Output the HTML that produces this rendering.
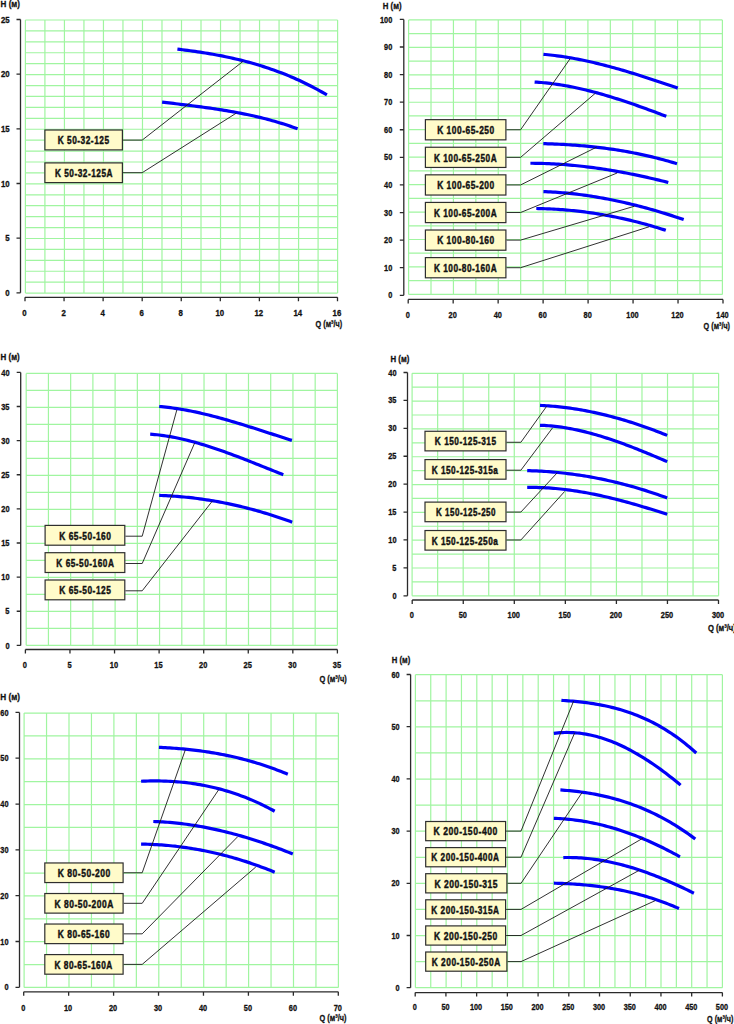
<!DOCTYPE html>
<html><head><meta charset="utf-8"><style>
html,body{margin:0;padding:0;background:#fff;width:734px;height:1024px;overflow:hidden}
svg{display:block}
text{font-family:"Liberation Sans",sans-serif;font-weight:bold;fill:#111;stroke:#111;stroke-width:0.3px}
text.bt{stroke-width:0.45px}
</style></head><body>
<svg width="734" height="1024" viewBox="0 0 734 1024">
<path d="M25.40,20.00V293.10M44.91,20.00V293.10M64.43,20.00V293.10M83.94,20.00V293.10M103.45,20.00V293.10M122.96,20.00V293.10M142.48,20.00V293.10M161.99,20.00V293.10M181.50,20.00V293.10M201.01,20.00V293.10M220.53,20.00V293.10M240.04,20.00V293.10M259.55,20.00V293.10M279.06,20.00V293.10M298.58,20.00V293.10M318.09,20.00V293.10M337.60,20.00V293.10M25.40,20.00H337.60M25.40,30.92H337.60M25.40,41.85H337.60M25.40,52.77H337.60M25.40,63.70H337.60M25.40,74.62H337.60M25.40,85.54H337.60M25.40,96.47H337.60M25.40,107.39H337.60M25.40,118.32H337.60M25.40,129.24H337.60M25.40,140.16H337.60M25.40,151.09H337.60M25.40,162.01H337.60M25.40,172.94H337.60M25.40,183.86H337.60M25.40,194.78H337.60M25.40,205.71H337.60M25.40,216.63H337.60M25.40,227.56H337.60M25.40,238.48H337.60M25.40,249.40H337.60M25.40,260.33H337.60M25.40,271.25H337.60M25.40,282.18H337.60M25.40,293.10H337.60" stroke="#a0f5a0" stroke-width="1.2" fill="none"/>
<path d="M20.50,19.50V292.80M16.50,292.80H20.50M16.50,238.14H20.50M16.50,183.48H20.50M16.50,128.82H20.50M16.50,74.16H20.50M16.50,19.50H20.50M25.00,297.30H337.50M25.00,297.30V301.30M64.06,297.30V301.30M103.12,297.30V301.30M142.19,297.30V301.30M181.25,297.30V301.30M220.31,297.30V301.30M259.38,297.30V301.30M298.44,297.30V301.30M337.50,297.30V301.30" stroke="#2a2a2a" stroke-width="1.3" fill="none"/>
<text transform="translate(5.37,295.93) scale(0.870,1)" font-size="9.0">0</text>
<text transform="translate(5.25,241.27) scale(0.870,1)" font-size="9.0">5</text>
<text transform="translate(1.02,186.61) scale(0.870,1)" font-size="9.0">10</text>
<text transform="translate(0.90,131.95) scale(0.870,1)" font-size="9.0">15</text>
<text transform="translate(1.02,77.29) scale(0.870,1)" font-size="9.0">20</text>
<text transform="translate(0.90,22.63) scale(0.870,1)" font-size="9.0">25</text>
<text transform="translate(22.33,315.80) scale(0.870,1)" font-size="9.0">0</text>
<text transform="translate(61.41,315.80) scale(0.870,1)" font-size="9.0">2</text>
<text transform="translate(100.41,315.80) scale(0.870,1)" font-size="9.0">4</text>
<text transform="translate(139.51,315.80) scale(0.870,1)" font-size="9.0">6</text>
<text transform="translate(178.58,315.80) scale(0.870,1)" font-size="9.0">8</text>
<text transform="translate(215.39,315.80) scale(0.870,1)" font-size="9.0">10</text>
<text transform="translate(254.45,315.80) scale(0.870,1)" font-size="9.0">12</text>
<text transform="translate(293.38,315.80) scale(0.870,1)" font-size="9.0">14</text>
<text transform="translate(332.56,315.80) scale(0.870,1)" font-size="9.0">16</text>
<text transform="translate(0.58,6.80) scale(0.858,1)" font-size="9.4">H (м)</text>
<text transform="translate(315.61,326.80) scale(0.776,1)" font-size="9.4">Q (м³/ч)</text>
<path d="M177.40,49.12 L179.93,49.42 L182.47,49.73 L185.00,50.05 L187.54,50.38 L190.07,50.72 L192.60,51.07 L195.14,51.43 L197.67,51.80 L200.21,52.18 L202.74,52.58 L205.27,52.98 L207.81,53.40 L210.34,53.83 L212.87,54.27 L215.41,54.73 L217.94,55.20 L220.48,55.69 L223.01,56.19 L225.54,56.71 L228.08,57.24 L230.61,57.79 L233.15,58.36 L235.68,58.94 L238.21,59.54 L240.75,60.16 L243.28,60.79 L245.82,61.45 L248.35,62.12 L250.88,62.82 L253.42,63.53 L255.95,64.27 L258.48,65.03 L261.02,65.80 L263.55,66.60 L266.09,67.42 L268.62,68.27 L271.15,69.14 L273.69,70.03 L276.22,70.94 L278.76,71.88 L281.29,72.84 L283.82,73.83 L286.36,74.85 L288.89,75.89 L291.43,76.95 L293.96,78.05 L296.49,79.17 L299.03,80.32 L301.56,81.50 L304.09,82.70 L306.63,83.94 L309.16,85.20 L311.70,86.49 L314.23,87.82 L316.76,89.17 L319.30,90.56 L321.83,91.98 L324.37,93.43 L326.90,94.91" stroke="#0000f8" stroke-width="3.2" fill="none"/>
<path d="M162.10,102.06 L164.40,102.34 L166.69,102.62 L168.99,102.90 L171.29,103.18 L173.58,103.46 L175.88,103.74 L178.18,104.02 L180.47,104.30 L182.77,104.58 L185.07,104.86 L187.36,105.15 L189.66,105.44 L191.96,105.73 L194.25,106.02 L196.55,106.32 L198.85,106.62 L201.14,106.92 L203.44,107.23 L205.74,107.55 L208.03,107.87 L210.33,108.20 L212.63,108.53 L214.92,108.87 L217.22,109.22 L219.52,109.57 L221.81,109.94 L224.11,110.31 L226.41,110.68 L228.70,111.07 L231.00,111.47 L233.29,111.88 L235.59,112.30 L237.89,112.72 L240.18,113.16 L242.48,113.61 L244.78,114.08 L247.07,114.55 L249.37,115.04 L251.67,115.54 L253.96,116.05 L256.26,116.57 L258.56,117.11 L260.85,117.67 L263.15,118.24 L265.45,118.82 L267.74,119.42 L270.04,120.04 L272.34,120.67 L274.63,121.32 L276.93,121.99 L279.23,122.67 L281.52,123.37 L283.82,124.09 L286.12,124.83 L288.41,125.59 L290.71,126.37 L293.01,127.16 L295.30,127.98 L297.60,128.82" stroke="#0000f8" stroke-width="3.2" fill="none"/>
<path d="M123.00,140.10H142.20L243.00,61.40" stroke="#1a1a1a" stroke-width="0.9" fill="none"/>
<rect x="44.90" y="130.00" width="77.50" height="19.90" fill="#fffbca" stroke="#2e2e2e" stroke-width="1.2"/>
<text class="bt" transform="translate(57.76,144.15) scale(0.737,1)" font-size="11.3" letter-spacing="0.687">K 50-32-125</text>
<path d="M123.00,172.70H142.20L236.30,113.10" stroke="#1a1a1a" stroke-width="0.9" fill="none"/>
<rect x="44.90" y="162.90" width="77.50" height="19.70" fill="#fffbca" stroke="#2e2e2e" stroke-width="1.2"/>
<text class="bt" transform="translate(54.96,176.95) scale(0.732,1)" font-size="11.3" letter-spacing="0.707">K 50-32-125A</text>
<path d="M408.60,19.90V294.40M431.01,19.90V294.40M453.43,19.90V294.40M475.84,19.90V294.40M498.26,19.90V294.40M520.67,19.90V294.40M543.09,19.90V294.40M565.50,19.90V294.40M587.91,19.90V294.40M610.33,19.90V294.40M632.74,19.90V294.40M655.16,19.90V294.40M677.57,19.90V294.40M699.99,19.90V294.40M722.40,19.90V294.40M408.60,19.90H722.40M408.60,33.62H722.40M408.60,47.35H722.40M408.60,61.07H722.40M408.60,74.80H722.40M408.60,88.53H722.40M408.60,102.25H722.40M408.60,115.97H722.40M408.60,129.70H722.40M408.60,143.43H722.40M408.60,157.15H722.40M408.60,170.88H722.40M408.60,184.60H722.40M408.60,198.33H722.40M408.60,212.05H722.40M408.60,225.78H722.40M408.60,239.50H722.40M408.60,253.22H722.40M408.60,266.95H722.40M408.60,280.67H722.40M408.60,294.40H722.40" stroke="#a0f5a0" stroke-width="1.2" fill="none"/>
<path d="M403.80,19.40V295.30M399.80,295.30H403.80M399.80,267.71H403.80M399.80,240.12H403.80M399.80,212.53H403.80M399.80,184.94H403.80M399.80,157.35H403.80M399.80,129.76H403.80M399.80,102.17H403.80M399.80,74.58H403.80M399.80,46.99H403.80M399.80,19.40H403.80M408.20,299.40H723.00M408.20,299.40V303.40M453.17,299.40V303.40M498.14,299.40V303.40M543.11,299.40V303.40M588.09,299.40V303.40M633.06,299.40V303.40M678.03,299.40V303.40M723.00,299.40V303.40" stroke="#2a2a2a" stroke-width="1.3" fill="none"/>
<text transform="translate(388.20,298.43) scale(0.820,1)" font-size="9.0">0</text>
<text transform="translate(384.10,270.84) scale(0.820,1)" font-size="9.0">10</text>
<text transform="translate(384.10,243.25) scale(0.820,1)" font-size="9.0">20</text>
<text transform="translate(384.10,215.66) scale(0.820,1)" font-size="9.0">30</text>
<text transform="translate(384.10,188.07) scale(0.820,1)" font-size="9.0">40</text>
<text transform="translate(384.10,160.48) scale(0.820,1)" font-size="9.0">50</text>
<text transform="translate(384.10,132.89) scale(0.820,1)" font-size="9.0">60</text>
<text transform="translate(384.10,105.30) scale(0.820,1)" font-size="9.0">70</text>
<text transform="translate(384.10,77.71) scale(0.820,1)" font-size="9.0">80</text>
<text transform="translate(384.10,50.12) scale(0.820,1)" font-size="9.0">90</text>
<text transform="translate(380.01,22.53) scale(0.820,1)" font-size="9.0">100</text>
<text transform="translate(405.65,317.90) scale(0.820,1)" font-size="9.0">0</text>
<text transform="translate(448.59,317.90) scale(0.820,1)" font-size="9.0">20</text>
<text transform="translate(493.64,317.90) scale(0.820,1)" font-size="9.0">40</text>
<text transform="translate(538.54,317.90) scale(0.820,1)" font-size="9.0">60</text>
<text transform="translate(583.53,317.90) scale(0.820,1)" font-size="9.0">80</text>
<text transform="translate(626.34,317.90) scale(0.820,1)" font-size="9.0">100</text>
<text transform="translate(671.31,317.90) scale(0.820,1)" font-size="9.0">120</text>
<text transform="translate(716.28,317.90) scale(0.820,1)" font-size="9.0">140</text>
<text transform="translate(382.79,9.30) scale(0.834,1)" font-size="9.4">H (м)</text>
<text transform="translate(703.61,328.60) scale(0.770,1)" font-size="9.4">Q (м³/ч)</text>
<path d="M543.40,54.32 L545.68,54.52 L547.96,54.74 L550.23,54.97 L552.51,55.23 L554.79,55.50 L557.07,55.79 L559.35,56.10 L561.62,56.42 L563.90,56.76 L566.18,57.11 L568.46,57.49 L570.74,57.87 L573.01,58.28 L575.29,58.70 L577.57,59.13 L579.85,59.57 L582.13,60.04 L584.40,60.51 L586.68,61.00 L588.96,61.50 L591.24,62.02 L593.52,62.54 L595.79,63.08 L598.07,63.63 L600.35,64.20 L602.63,64.77 L604.91,65.36 L607.18,65.95 L609.46,66.56 L611.74,67.18 L614.02,67.80 L616.29,68.44 L618.57,69.08 L620.85,69.74 L623.13,70.40 L625.41,71.07 L627.68,71.75 L629.96,72.44 L632.24,73.13 L634.52,73.84 L636.80,74.55 L639.07,75.26 L641.35,75.98 L643.63,76.71 L645.91,77.44 L648.19,78.18 L650.46,78.92 L652.74,79.67 L655.02,80.43 L657.30,81.18 L659.58,81.94 L661.85,82.71 L664.13,83.47 L666.41,84.24 L668.69,85.02 L670.97,85.79 L673.24,86.57 L675.52,87.35 L677.80,88.13" stroke="#0000f8" stroke-width="3.2" fill="none"/>
<path d="M534.60,82.05 L536.83,82.19 L539.06,82.35 L541.30,82.52 L543.53,82.72 L545.76,82.94 L547.99,83.18 L550.23,83.44 L552.46,83.72 L554.69,84.02 L556.92,84.33 L559.15,84.67 L561.39,85.02 L563.62,85.39 L565.85,85.78 L568.08,86.19 L570.32,86.61 L572.55,87.05 L574.78,87.51 L577.01,87.98 L579.24,88.47 L581.48,88.98 L583.71,89.49 L585.94,90.03 L588.17,90.58 L590.41,91.14 L592.64,91.71 L594.87,92.30 L597.10,92.90 L599.33,93.52 L601.57,94.15 L603.80,94.79 L606.03,95.44 L608.26,96.10 L610.49,96.78 L612.73,97.46 L614.96,98.16 L617.19,98.86 L619.42,99.58 L621.66,100.30 L623.89,101.04 L626.12,101.78 L628.35,102.53 L630.58,103.29 L632.82,104.06 L635.05,104.84 L637.28,105.62 L639.51,106.41 L641.75,107.21 L643.98,108.01 L646.21,108.82 L648.44,109.64 L650.67,110.46 L652.91,111.29 L655.14,112.12 L657.37,112.95 L659.60,113.79 L661.84,114.63 L664.07,115.48 L666.30,116.33" stroke="#0000f8" stroke-width="3.2" fill="none"/>
<path d="M543.30,143.65 L545.57,143.71 L547.83,143.78 L550.10,143.86 L552.36,143.94 L554.63,144.03 L556.90,144.13 L559.16,144.23 L561.43,144.35 L563.69,144.47 L565.96,144.60 L568.23,144.74 L570.49,144.88 L572.76,145.04 L575.03,145.20 L577.29,145.37 L579.56,145.56 L581.82,145.75 L584.09,145.95 L586.36,146.16 L588.62,146.37 L590.89,146.60 L593.15,146.84 L595.42,147.09 L597.69,147.35 L599.95,147.62 L602.22,147.89 L604.48,148.18 L606.75,148.48 L609.02,148.79 L611.28,149.11 L613.55,149.45 L615.82,149.79 L618.08,150.15 L620.35,150.51 L622.61,150.89 L624.88,151.28 L627.15,151.68 L629.41,152.09 L631.68,152.52 L633.94,152.96 L636.21,153.41 L638.48,153.87 L640.74,154.34 L643.01,154.83 L645.27,155.33 L647.54,155.84 L649.81,156.37 L652.07,156.91 L654.34,157.46 L656.61,158.03 L658.87,158.61 L661.14,159.21 L663.40,159.82 L665.67,160.44 L667.94,161.08 L670.20,161.73 L672.47,162.39 L674.73,163.07 L677.00,163.77" stroke="#0000f8" stroke-width="3.2" fill="none"/>
<path d="M530.40,163.25 L532.74,163.26 L535.07,163.29 L537.41,163.32 L539.75,163.37 L542.09,163.43 L544.42,163.50 L546.76,163.59 L549.10,163.68 L551.44,163.79 L553.77,163.91 L556.11,164.04 L558.45,164.19 L560.78,164.34 L563.12,164.51 L565.46,164.69 L567.80,164.88 L570.13,165.08 L572.47,165.29 L574.81,165.51 L577.15,165.75 L579.48,165.99 L581.82,166.25 L584.16,166.51 L586.49,166.79 L588.83,167.08 L591.17,167.38 L593.51,167.68 L595.84,168.00 L598.18,168.33 L600.52,168.67 L602.86,169.02 L605.19,169.38 L607.53,169.74 L609.87,170.12 L612.21,170.51 L614.54,170.91 L616.88,171.31 L619.22,171.73 L621.55,172.15 L623.89,172.59 L626.23,173.03 L628.57,173.48 L630.90,173.95 L633.24,174.42 L635.58,174.89 L637.92,175.38 L640.25,175.88 L642.59,176.38 L644.93,176.89 L647.26,177.41 L649.60,177.94 L651.94,178.48 L654.28,179.02 L656.61,179.58 L658.95,180.14 L661.29,180.70 L663.63,181.28 L665.96,181.86 L668.30,182.45" stroke="#0000f8" stroke-width="3.2" fill="none"/>
<path d="M543.40,191.59 L545.78,191.68 L548.16,191.78 L550.53,191.90 L552.91,192.03 L555.29,192.18 L557.67,192.35 L560.05,192.53 L562.42,192.72 L564.80,192.93 L567.18,193.15 L569.56,193.39 L571.94,193.64 L574.31,193.90 L576.69,194.18 L579.07,194.47 L581.45,194.78 L583.83,195.10 L586.20,195.43 L588.58,195.78 L590.96,196.14 L593.34,196.51 L595.72,196.90 L598.09,197.30 L600.47,197.71 L602.85,198.14 L605.23,198.58 L607.61,199.03 L609.98,199.49 L612.36,199.97 L614.74,200.45 L617.12,200.96 L619.49,201.47 L621.87,201.99 L624.25,202.53 L626.63,203.08 L629.01,203.64 L631.38,204.21 L633.76,204.79 L636.14,205.39 L638.52,206.00 L640.90,206.61 L643.27,207.24 L645.65,207.88 L648.03,208.54 L650.41,209.20 L652.79,209.87 L655.16,210.55 L657.54,211.25 L659.92,211.95 L662.30,212.67 L664.68,213.39 L667.05,214.13 L669.43,214.88 L671.81,215.63 L674.19,216.40 L676.57,217.17 L678.94,217.96 L681.32,218.76 L683.70,219.56" stroke="#0000f8" stroke-width="3.2" fill="none"/>
<path d="M536.30,208.52 L538.49,208.56 L540.69,208.61 L542.88,208.67 L545.08,208.74 L547.27,208.82 L549.47,208.91 L551.66,209.02 L553.86,209.13 L556.05,209.26 L558.25,209.40 L560.44,209.55 L562.64,209.71 L564.83,209.88 L567.03,210.07 L569.22,210.26 L571.42,210.47 L573.61,210.69 L575.81,210.92 L578.00,211.16 L580.20,211.42 L582.39,211.68 L584.59,211.96 L586.78,212.25 L588.98,212.55 L591.17,212.86 L593.37,213.18 L595.56,213.51 L597.76,213.86 L599.95,214.22 L602.15,214.58 L604.34,214.96 L606.54,215.36 L608.73,215.76 L610.93,216.17 L613.12,216.60 L615.32,217.04 L617.51,217.49 L619.71,217.95 L621.90,218.42 L624.10,218.91 L626.29,219.40 L628.49,219.91 L630.68,220.43 L632.88,220.96 L635.07,221.51 L637.27,222.06 L639.46,222.63 L641.66,223.20 L643.85,223.79 L646.05,224.39 L648.24,225.01 L650.44,225.63 L652.63,226.27 L654.83,226.92 L657.02,227.58 L659.22,228.25 L661.41,228.93 L663.61,229.62 L665.80,230.33" stroke="#0000f8" stroke-width="3.2" fill="none"/>
<path d="M506.50,129.76H520.60L570.10,58.70" stroke="#1a1a1a" stroke-width="0.9" fill="none"/>
<rect x="425.40" y="119.66" width="80.50" height="20.20" fill="#fffbca" stroke="#2e2e2e" stroke-width="1.2"/>
<text class="bt" transform="translate(437.15,133.96) scale(0.745,1)" font-size="11.3" letter-spacing="0.686">K 100-65-250</text>
<path d="M506.50,157.35H520.60L595.40,93.20" stroke="#1a1a1a" stroke-width="0.9" fill="none"/>
<rect x="425.40" y="147.25" width="80.50" height="20.20" fill="#fffbca" stroke="#2e2e2e" stroke-width="1.2"/>
<text class="bt" transform="translate(433.96,161.55) scale(0.731,1)" font-size="11.3" letter-spacing="0.706">K 100-65-250A</text>
<path d="M506.50,184.94H520.60L596.70,147.10" stroke="#1a1a1a" stroke-width="0.9" fill="none"/>
<rect x="425.40" y="174.84" width="80.50" height="20.20" fill="#fffbca" stroke="#2e2e2e" stroke-width="1.2"/>
<text class="bt" transform="translate(437.15,189.14) scale(0.745,1)" font-size="11.3" letter-spacing="0.686">K 100-65-200</text>
<path d="M506.50,212.53H520.60L617.10,173.00" stroke="#1a1a1a" stroke-width="0.9" fill="none"/>
<rect x="425.40" y="202.43" width="80.50" height="20.20" fill="#fffbca" stroke="#2e2e2e" stroke-width="1.2"/>
<text class="bt" transform="translate(433.96,216.73) scale(0.731,1)" font-size="11.3" letter-spacing="0.706">K 100-65-200A</text>
<path d="M506.50,240.12H520.60L634.50,206.20" stroke="#1a1a1a" stroke-width="0.9" fill="none"/>
<rect x="425.40" y="230.02" width="80.50" height="20.20" fill="#fffbca" stroke="#2e2e2e" stroke-width="1.2"/>
<text class="bt" transform="translate(437.15,244.32) scale(0.745,1)" font-size="11.3" letter-spacing="0.686">K 100-80-160</text>
<path d="M506.50,267.71H520.60L649.00,226.80" stroke="#1a1a1a" stroke-width="0.9" fill="none"/>
<rect x="425.40" y="257.61" width="80.50" height="20.20" fill="#fffbca" stroke="#2e2e2e" stroke-width="1.2"/>
<text class="bt" transform="translate(433.96,271.91) scale(0.731,1)" font-size="11.3" letter-spacing="0.706">K 100-80-160A</text>
<path d="M26.20,373.40V645.30M48.43,373.40V645.30M70.66,373.40V645.30M92.89,373.40V645.30M115.11,373.40V645.30M137.34,373.40V645.30M159.57,373.40V645.30M181.80,373.40V645.30M204.03,373.40V645.30M226.26,373.40V645.30M248.49,373.40V645.30M270.71,373.40V645.30M292.94,373.40V645.30M315.17,373.40V645.30M337.40,373.40V645.30M26.20,373.40H337.40M26.20,390.39H337.40M26.20,407.39H337.40M26.20,424.38H337.40M26.20,441.38H337.40M26.20,458.37H337.40M26.20,475.36H337.40M26.20,492.36H337.40M26.20,509.35H337.40M26.20,526.34H337.40M26.20,543.34H337.40M26.20,560.33H337.40M26.20,577.32H337.40M26.20,594.32H337.40M26.20,611.31H337.40M26.20,628.31H337.40M26.20,645.30H337.40" stroke="#a0f5a0" stroke-width="1.2" fill="none"/>
<path d="M20.70,372.40V645.40M16.70,645.40H20.70M16.70,611.27H20.70M16.70,577.15H20.70M16.70,543.02H20.70M16.70,508.90H20.70M16.70,474.77H20.70M16.70,440.65H20.70M16.70,406.52H20.70M16.70,372.40H20.70M25.40,649.50H337.40M25.40,649.50V653.50M69.97,649.50V653.50M114.54,649.50V653.50M159.11,649.50V653.50M203.69,649.50V653.50M248.26,649.50V653.50M292.83,649.50V653.50M337.40,649.50V653.50" stroke="#2a2a2a" stroke-width="1.3" fill="none"/>
<text transform="translate(5.45,648.53) scale(0.830,1)" font-size="9.0">0</text>
<text transform="translate(5.34,614.40) scale(0.830,1)" font-size="9.0">5</text>
<text transform="translate(1.31,580.28) scale(0.830,1)" font-size="9.0">10</text>
<text transform="translate(1.20,546.15) scale(0.830,1)" font-size="9.0">15</text>
<text transform="translate(1.31,512.03) scale(0.830,1)" font-size="9.0">20</text>
<text transform="translate(1.20,477.90) scale(0.830,1)" font-size="9.0">25</text>
<text transform="translate(1.31,443.78) scale(0.830,1)" font-size="9.0">30</text>
<text transform="translate(1.20,409.65) scale(0.830,1)" font-size="9.0">35</text>
<text transform="translate(1.31,375.53) scale(0.830,1)" font-size="9.0">40</text>
<text transform="translate(22.83,668.00) scale(0.830,1)" font-size="9.0">0</text>
<text transform="translate(67.38,668.00) scale(0.830,1)" font-size="9.0">5</text>
<text transform="translate(109.82,668.00) scale(0.830,1)" font-size="9.0">10</text>
<text transform="translate(154.34,668.00) scale(0.830,1)" font-size="9.0">15</text>
<text transform="translate(199.06,668.00) scale(0.830,1)" font-size="9.0">20</text>
<text transform="translate(243.57,668.00) scale(0.830,1)" font-size="9.0">25</text>
<text transform="translate(288.24,668.00) scale(0.830,1)" font-size="9.0">30</text>
<text transform="translate(332.75,668.00) scale(0.830,1)" font-size="9.0">35</text>
<text transform="translate(0.58,360.30) scale(0.886,1)" font-size="9.0">H (м)</text>
<text transform="translate(319.40,682.00) scale(0.797,1)" font-size="9.4">Q (м³/ч)</text>
<path d="M159.20,406.50 L161.45,406.70 L163.70,406.91 L165.95,407.15 L168.20,407.41 L170.45,407.69 L172.69,407.98 L174.94,408.30 L177.19,408.64 L179.44,408.99 L181.69,409.36 L183.94,409.75 L186.19,410.16 L188.44,410.58 L190.69,411.02 L192.94,411.47 L195.19,411.94 L197.44,412.43 L199.68,412.93 L201.93,413.44 L204.18,413.97 L206.43,414.51 L208.68,415.06 L210.93,415.62 L213.18,416.20 L215.43,416.79 L217.68,417.39 L219.93,418.00 L222.18,418.62 L224.43,419.24 L226.67,419.88 L228.92,420.53 L231.17,421.18 L233.42,421.85 L235.67,422.52 L237.92,423.19 L240.17,423.88 L242.42,424.57 L244.67,425.26 L246.92,425.96 L249.17,426.67 L251.42,427.38 L253.66,428.09 L255.91,428.81 L258.16,429.53 L260.41,430.25 L262.66,430.98 L264.91,431.70 L267.16,432.43 L269.41,433.16 L271.66,433.89 L273.91,434.62 L276.16,435.34 L278.41,436.07 L280.65,436.80 L282.90,437.52 L285.15,438.24 L287.40,438.96 L289.65,439.68 L291.90,440.39" stroke="#0000f8" stroke-width="3.2" fill="none"/>
<path d="M150.20,434.17 L152.46,434.34 L154.71,434.55 L156.97,434.77 L159.22,435.03 L161.48,435.31 L163.74,435.62 L165.99,435.96 L168.25,436.32 L170.50,436.70 L172.76,437.11 L175.02,437.55 L177.27,438.00 L179.53,438.48 L181.78,438.98 L184.04,439.50 L186.29,440.04 L188.55,440.60 L190.81,441.18 L193.06,441.78 L195.32,442.40 L197.57,443.03 L199.83,443.68 L202.09,444.35 L204.34,445.04 L206.60,445.74 L208.85,446.45 L211.11,447.18 L213.37,447.93 L215.62,448.68 L217.88,449.45 L220.13,450.23 L222.39,451.03 L224.65,451.83 L226.90,452.64 L229.16,453.47 L231.41,454.30 L233.67,455.14 L235.93,455.99 L238.18,456.85 L240.44,457.72 L242.69,458.59 L244.95,459.46 L247.21,460.34 L249.46,461.23 L251.72,462.12 L253.97,463.01 L256.23,463.91 L258.48,464.81 L260.74,465.71 L263.00,466.62 L265.25,467.52 L267.51,468.42 L269.76,469.32 L272.02,470.23 L274.28,471.13 L276.53,472.03 L278.79,472.92 L281.04,473.81 L283.30,474.70" stroke="#0000f8" stroke-width="3.2" fill="none"/>
<path d="M159.20,495.44 L161.45,495.52 L163.71,495.60 L165.96,495.71 L168.22,495.82 L170.47,495.95 L172.73,496.09 L174.98,496.25 L177.23,496.41 L179.49,496.60 L181.74,496.79 L184.00,497.00 L186.25,497.22 L188.51,497.45 L190.76,497.70 L193.01,497.96 L195.27,498.24 L197.52,498.52 L199.78,498.82 L202.03,499.13 L204.28,499.46 L206.54,499.80 L208.79,500.15 L211.05,500.52 L213.30,500.89 L215.56,501.28 L217.81,501.69 L220.06,502.10 L222.32,502.53 L224.57,502.98 L226.83,503.43 L229.08,503.90 L231.34,504.38 L233.59,504.87 L235.84,505.38 L238.10,505.90 L240.35,506.43 L242.61,506.98 L244.86,507.53 L247.12,508.10 L249.37,508.69 L251.62,509.28 L253.88,509.89 L256.13,510.51 L258.39,511.15 L260.64,511.79 L262.89,512.45 L265.15,513.12 L267.40,513.81 L269.66,514.50 L271.91,515.21 L274.17,515.93 L276.42,516.67 L278.67,517.41 L280.93,518.17 L283.18,518.94 L285.44,519.73 L287.69,520.52 L289.95,521.33 L292.20,522.15" stroke="#0000f8" stroke-width="3.2" fill="none"/>
<path d="M125.40,536.20H142.20L176.80,410.00" stroke="#1a1a1a" stroke-width="0.9" fill="none"/>
<rect x="45.10" y="525.40" width="79.70" height="19.80" fill="#fffbca" stroke="#2e2e2e" stroke-width="1.2"/>
<text class="bt" transform="translate(59.25,539.50) scale(0.743,1)" font-size="11.3" letter-spacing="0.685">K 65-50-160</text>
<path d="M125.40,563.50H142.20L194.60,443.10" stroke="#1a1a1a" stroke-width="0.9" fill="none"/>
<rect x="45.10" y="552.70" width="79.70" height="19.80" fill="#fffbca" stroke="#2e2e2e" stroke-width="1.2"/>
<text class="bt" transform="translate(56.36,566.80) scale(0.730,1)" font-size="11.3" letter-spacing="0.707">K 65-50-160A</text>
<path d="M125.40,590.80H142.20L212.30,501.10" stroke="#1a1a1a" stroke-width="0.9" fill="none"/>
<rect x="45.10" y="580.00" width="79.70" height="19.80" fill="#fffbca" stroke="#2e2e2e" stroke-width="1.2"/>
<text class="bt" transform="translate(59.26,594.10) scale(0.741,1)" font-size="11.3" letter-spacing="0.687">K 65-50-125</text>
<path d="M412.10,373.30V595.80M437.64,373.30V595.80M463.18,373.30V595.80M488.73,373.30V595.80M514.27,373.30V595.80M539.81,373.30V595.80M565.35,373.30V595.80M590.89,373.30V595.80M616.43,373.30V595.80M641.98,373.30V595.80M667.52,373.30V595.80M693.06,373.30V595.80M718.60,373.30V595.80M412.10,373.30H718.60M412.10,387.21H718.60M412.10,401.11H718.60M412.10,415.02H718.60M412.10,428.93H718.60M412.10,442.83H718.60M412.10,456.74H718.60M412.10,470.64H718.60M412.10,484.55H718.60M412.10,498.46H718.60M412.10,512.36H718.60M412.10,526.27H718.60M412.10,540.17H718.60M412.10,554.08H718.60M412.10,567.99H718.60M412.10,581.89H718.60M412.10,595.80H718.60" stroke="#a0f5a0" stroke-width="1.2" fill="none"/>
<path d="M407.50,372.50V595.80M403.50,595.80H407.50M403.50,567.89H407.50M403.50,539.97H407.50M403.50,512.06H407.50M403.50,484.15H407.50M403.50,456.24H407.50M403.50,428.32H407.50M403.50,400.41H407.50M403.50,372.50H407.50M412.20,600.00H718.50M412.20,600.00V604.00M463.25,600.00V604.00M514.30,600.00V604.00M565.35,600.00V604.00M616.40,600.00V604.00M667.45,600.00V604.00M718.50,600.00V604.00" stroke="#2a2a2a" stroke-width="1.3" fill="none"/>
<text transform="translate(392.39,598.86) scale(0.840,1)" font-size="8.8">0</text>
<text transform="translate(392.28,570.95) scale(0.840,1)" font-size="8.8">5</text>
<text transform="translate(388.29,543.03) scale(0.840,1)" font-size="8.8">10</text>
<text transform="translate(388.18,515.12) scale(0.840,1)" font-size="8.8">15</text>
<text transform="translate(388.29,487.21) scale(0.840,1)" font-size="8.8">20</text>
<text transform="translate(388.18,459.30) scale(0.840,1)" font-size="8.8">25</text>
<text transform="translate(388.29,431.38) scale(0.840,1)" font-size="8.8">30</text>
<text transform="translate(388.18,403.47) scale(0.840,1)" font-size="8.8">35</text>
<text transform="translate(388.29,375.56) scale(0.840,1)" font-size="8.8">40</text>
<text transform="translate(409.65,617.90) scale(0.840,1)" font-size="8.8">0</text>
<text transform="translate(458.68,617.90) scale(0.840,1)" font-size="8.8">50</text>
<text transform="translate(507.57,617.90) scale(0.840,1)" font-size="8.8">100</text>
<text transform="translate(558.62,617.90) scale(0.840,1)" font-size="8.8">150</text>
<text transform="translate(609.76,617.90) scale(0.840,1)" font-size="8.8">200</text>
<text transform="translate(660.81,617.90) scale(0.840,1)" font-size="8.8">250</text>
<text transform="translate(711.90,617.90) scale(0.840,1)" font-size="8.8">300</text>
<text transform="translate(390.49,362.40) scale(0.891,1)" font-size="8.8">H (м)</text>
<text transform="translate(707.89,630.70) scale(0.851,1)" font-size="9.0">Q (м³/ч)</text>
<path d="M540.00,405.38 L542.16,405.48 L544.31,405.60 L546.47,405.73 L548.62,405.88 L550.78,406.04 L552.94,406.22 L555.09,406.41 L557.25,406.62 L559.40,406.84 L561.56,407.08 L563.72,407.34 L565.87,407.61 L568.03,407.89 L570.18,408.19 L572.34,408.50 L574.49,408.82 L576.65,409.17 L578.81,409.52 L580.96,409.89 L583.12,410.28 L585.27,410.67 L587.43,411.09 L589.59,411.51 L591.74,411.95 L593.90,412.40 L596.05,412.87 L598.21,413.35 L600.37,413.85 L602.52,414.35 L604.68,414.87 L606.83,415.41 L608.99,415.96 L611.15,416.52 L613.30,417.09 L615.46,417.68 L617.61,418.27 L619.77,418.89 L621.93,419.51 L624.08,420.15 L626.24,420.80 L628.39,421.46 L630.55,422.13 L632.71,422.82 L634.86,423.52 L637.02,424.23 L639.17,424.95 L641.33,425.68 L643.48,426.43 L645.64,427.19 L647.80,427.96 L649.95,428.74 L652.11,429.53 L654.26,430.34 L656.42,431.15 L658.58,431.98 L660.73,432.81 L662.89,433.66 L665.04,434.52 L667.20,435.39" stroke="#0000f8" stroke-width="3.2" fill="none"/>
<path d="M540.00,425.28 L542.16,425.35 L544.31,425.46 L546.47,425.59 L548.62,425.74 L550.78,425.92 L552.94,426.13 L555.09,426.36 L557.25,426.61 L559.40,426.89 L561.56,427.19 L563.72,427.51 L565.87,427.86 L568.03,428.23 L570.18,428.62 L572.34,429.03 L574.49,429.46 L576.65,429.91 L578.81,430.38 L580.96,430.87 L583.12,431.38 L585.27,431.91 L587.43,432.46 L589.59,433.02 L591.74,433.60 L593.90,434.20 L596.05,434.81 L598.21,435.45 L600.37,436.09 L602.52,436.75 L604.68,437.43 L606.83,438.12 L608.99,438.83 L611.15,439.54 L613.30,440.28 L615.46,441.02 L617.61,441.78 L619.77,442.55 L621.93,443.33 L624.08,444.12 L626.24,444.92 L628.39,445.73 L630.55,446.55 L632.71,447.38 L634.86,448.22 L637.02,449.07 L639.17,449.93 L641.33,450.79 L643.48,451.66 L645.64,452.54 L647.80,453.43 L649.95,454.32 L652.11,455.21 L654.26,456.11 L656.42,457.02 L658.58,457.93 L660.73,458.85 L662.89,459.76 L665.04,460.68 L667.20,461.61" stroke="#0000f8" stroke-width="3.2" fill="none"/>
<path d="M527.20,470.65 L529.57,470.71 L531.95,470.78 L534.32,470.87 L536.69,470.97 L539.06,471.08 L541.44,471.21 L543.81,471.36 L546.18,471.51 L548.56,471.68 L550.93,471.87 L553.30,472.06 L555.67,472.28 L558.05,472.50 L560.42,472.74 L562.79,472.99 L565.17,473.26 L567.54,473.54 L569.91,473.84 L572.28,474.15 L574.66,474.47 L577.03,474.81 L579.40,475.16 L581.78,475.52 L584.15,475.90 L586.52,476.29 L588.89,476.70 L591.27,477.12 L593.64,477.55 L596.01,478.00 L598.39,478.46 L600.76,478.94 L603.13,479.43 L605.51,479.93 L607.88,480.45 L610.25,480.98 L612.62,481.53 L615.00,482.09 L617.37,482.66 L619.74,483.25 L622.12,483.85 L624.49,484.47 L626.86,485.10 L629.23,485.74 L631.61,486.40 L633.98,487.07 L636.35,487.76 L638.73,488.46 L641.10,489.17 L643.47,489.90 L645.84,490.64 L648.22,491.40 L650.59,492.17 L652.96,492.96 L655.34,493.75 L657.71,494.57 L660.08,495.40 L662.45,496.24 L664.83,497.09 L667.20,497.96" stroke="#0000f8" stroke-width="3.2" fill="none"/>
<path d="M527.20,487.46 L529.57,487.43 L531.95,487.42 L534.32,487.43 L536.69,487.47 L539.06,487.53 L541.44,487.61 L543.81,487.71 L546.18,487.83 L548.56,487.97 L550.93,488.13 L553.30,488.32 L555.67,488.52 L558.05,488.74 L560.42,488.98 L562.79,489.24 L565.17,489.52 L567.54,489.82 L569.91,490.13 L572.28,490.46 L574.66,490.81 L577.03,491.18 L579.40,491.56 L581.78,491.96 L584.15,492.37 L586.52,492.80 L588.89,493.24 L591.27,493.70 L593.64,494.18 L596.01,494.66 L598.39,495.17 L600.76,495.68 L603.13,496.21 L605.51,496.75 L607.88,497.31 L610.25,497.87 L612.62,498.45 L615.00,499.04 L617.37,499.64 L619.74,500.25 L622.12,500.88 L624.49,501.51 L626.86,502.16 L629.23,502.81 L631.61,503.47 L633.98,504.14 L636.35,504.82 L638.73,505.51 L641.10,506.21 L643.47,506.92 L645.84,507.63 L648.22,508.35 L650.59,509.07 L652.96,509.81 L655.34,510.55 L657.71,511.29 L660.08,512.04 L662.45,512.80 L664.83,513.56 L667.20,514.32" stroke="#0000f8" stroke-width="3.2" fill="none"/>
<path d="M506.60,442.28H520.90L546.60,406.40" stroke="#1a1a1a" stroke-width="0.9" fill="none"/>
<rect x="425.00" y="431.28" width="81.00" height="19.60" fill="#fffbca" stroke="#2e2e2e" stroke-width="1.2"/>
<text class="bt" transform="translate(434.86,445.28) scale(0.732,1)" font-size="11.3" letter-spacing="0.688">K 150-125-315</text>
<path d="M506.60,470.19H520.90L552.60,427.80" stroke="#1a1a1a" stroke-width="0.9" fill="none"/>
<rect x="425.00" y="459.59" width="81.00" height="19.60" fill="#fffbca" stroke="#2e2e2e" stroke-width="1.2"/>
<text class="bt" transform="translate(431.66,473.59) scale(0.730,1)" font-size="11.3" letter-spacing="0.692">K 150-125-315a</text>
<path d="M506.60,512.06H520.90L557.10,472.90" stroke="#1a1a1a" stroke-width="0.9" fill="none"/>
<rect x="425.00" y="502.11" width="81.00" height="19.60" fill="#fffbca" stroke="#2e2e2e" stroke-width="1.2"/>
<text class="bt" transform="translate(436.08,516.11) scale(0.711,1)" font-size="11.3" letter-spacing="0.687">K 150-125-250</text>
<path d="M506.60,539.97H520.90L564.70,491.40" stroke="#1a1a1a" stroke-width="0.9" fill="none"/>
<rect x="425.00" y="530.52" width="81.00" height="19.60" fill="#fffbca" stroke="#2e2e2e" stroke-width="1.2"/>
<text class="bt" transform="translate(431.66,544.52) scale(0.730,1)" font-size="11.3" letter-spacing="0.692">K 150-125-250a</text>
<path d="M24.10,713.10V987.40M46.55,713.10V987.40M69.00,713.10V987.40M91.45,713.10V987.40M113.90,713.10V987.40M136.35,713.10V987.40M158.80,713.10V987.40M181.25,713.10V987.40M203.70,713.10V987.40M226.15,713.10V987.40M248.60,713.10V987.40M271.05,713.10V987.40M293.50,713.10V987.40M315.95,713.10V987.40M338.40,713.10V987.40M24.10,713.10H338.40M24.10,735.96H338.40M24.10,758.82H338.40M24.10,781.67H338.40M24.10,804.53H338.40M24.10,827.39H338.40M24.10,850.25H338.40M24.10,873.11H338.40M24.10,895.97H338.40M24.10,918.83H338.40M24.10,941.68H338.40M24.10,964.54H338.40M24.10,987.40H338.40" stroke="#a0f5a0" stroke-width="1.2" fill="none"/>
<path d="M19.50,712.40V987.30M15.50,987.30H19.50M15.50,941.48H19.50M15.50,895.67H19.50M15.50,849.85H19.50M15.50,804.03H19.50M15.50,758.22H19.50M15.50,712.40H19.50M23.70,991.80H338.30M23.70,991.80V995.80M68.64,991.80V995.80M113.59,991.80V995.80M158.53,991.80V995.80M203.47,991.80V995.80M248.41,991.80V995.80M293.36,991.80V995.80M338.30,991.80V995.80" stroke="#2a2a2a" stroke-width="1.3" fill="none"/>
<text transform="translate(4.40,990.43) scale(0.820,1)" font-size="9.0">0</text>
<text transform="translate(0.30,944.61) scale(0.820,1)" font-size="9.0">10</text>
<text transform="translate(0.30,898.79) scale(0.820,1)" font-size="9.0">20</text>
<text transform="translate(0.30,852.98) scale(0.820,1)" font-size="9.0">30</text>
<text transform="translate(0.30,807.16) scale(0.820,1)" font-size="9.0">40</text>
<text transform="translate(0.30,761.34) scale(0.820,1)" font-size="9.0">50</text>
<text transform="translate(0.30,715.53) scale(0.820,1)" font-size="9.0">60</text>
<text transform="translate(21.15,1010.50) scale(0.820,1)" font-size="9.0">0</text>
<text transform="translate(63.97,1010.50) scale(0.820,1)" font-size="9.0">10</text>
<text transform="translate(109.01,1010.50) scale(0.820,1)" font-size="9.0">20</text>
<text transform="translate(153.99,1010.50) scale(0.820,1)" font-size="9.0">30</text>
<text transform="translate(198.97,1010.50) scale(0.820,1)" font-size="9.0">40</text>
<text transform="translate(243.86,1010.50) scale(0.820,1)" font-size="9.0">50</text>
<text transform="translate(288.78,1010.50) scale(0.820,1)" font-size="9.0">60</text>
<text transform="translate(333.70,1010.50) scale(0.820,1)" font-size="9.0">70</text>
<text transform="translate(0.27,699.70) scale(0.881,1)" font-size="9.3">H (м)</text>
<text transform="translate(319.61,1021.40) scale(0.782,1)" font-size="9.4">Q (м³/ч)</text>
<path d="M158.90,747.36 L161.08,747.46 L163.27,747.56 L165.45,747.68 L167.64,747.81 L169.82,747.94 L172.01,748.09 L174.19,748.24 L176.38,748.40 L178.56,748.58 L180.75,748.76 L182.93,748.96 L185.12,749.17 L187.30,749.38 L189.49,749.61 L191.67,749.85 L193.86,750.10 L196.04,750.37 L198.23,750.64 L200.41,750.93 L202.59,751.23 L204.78,751.54 L206.96,751.86 L209.15,752.20 L211.33,752.55 L213.52,752.91 L215.70,753.28 L217.89,753.67 L220.07,754.07 L222.26,754.49 L224.44,754.92 L226.63,755.36 L228.81,755.82 L231.00,756.30 L233.18,756.78 L235.37,757.29 L237.55,757.80 L239.74,758.34 L241.92,758.88 L244.11,759.45 L246.29,760.03 L248.47,760.62 L250.66,761.23 L252.84,761.86 L255.03,762.50 L257.21,763.16 L259.40,763.84 L261.58,764.54 L263.77,765.25 L265.95,765.98 L268.14,766.72 L270.32,767.49 L272.51,768.27 L274.69,769.07 L276.88,769.89 L279.06,770.72 L281.25,771.58 L283.43,772.45 L285.62,773.34 L287.80,774.26" stroke="#0000f8" stroke-width="3.2" fill="none"/>
<path d="M141.10,781.24 L143.36,781.14 L145.63,781.07 L147.89,781.00 L150.16,780.96 L152.42,780.93 L154.69,780.92 L156.95,780.93 L159.22,780.95 L161.48,780.99 L163.74,781.06 L166.01,781.13 L168.27,781.23 L170.54,781.35 L172.80,781.48 L175.07,781.64 L177.33,781.81 L179.59,782.01 L181.86,782.22 L184.12,782.46 L186.39,782.71 L188.65,782.99 L190.92,783.28 L193.18,783.60 L195.45,783.94 L197.71,784.30 L199.97,784.69 L202.24,785.09 L204.50,785.52 L206.77,785.97 L209.03,786.45 L211.30,786.94 L213.56,787.46 L215.83,788.01 L218.09,788.58 L220.35,789.17 L222.62,789.79 L224.88,790.43 L227.15,791.09 L229.41,791.78 L231.68,792.50 L233.94,793.24 L236.21,794.01 L238.47,794.81 L240.73,795.63 L243.00,796.47 L245.26,797.35 L247.53,798.25 L249.79,799.18 L252.06,800.13 L254.32,801.12 L256.58,802.13 L258.85,803.17 L261.11,804.24 L263.38,805.34 L265.64,806.46 L267.91,807.62 L270.17,808.80 L272.44,810.02 L274.70,811.26" stroke="#0000f8" stroke-width="3.2" fill="none"/>
<path d="M153.30,821.52 L155.66,821.60 L158.03,821.69 L160.39,821.81 L162.76,821.95 L165.12,822.10 L167.49,822.27 L169.85,822.46 L172.22,822.67 L174.58,822.90 L176.94,823.14 L179.31,823.40 L181.67,823.68 L184.04,823.97 L186.40,824.28 L188.77,824.61 L191.13,824.96 L193.49,825.32 L195.86,825.70 L198.22,826.10 L200.59,826.51 L202.95,826.94 L205.32,827.38 L207.68,827.84 L210.05,828.32 L212.41,828.81 L214.77,829.32 L217.14,829.84 L219.50,830.38 L221.87,830.94 L224.23,831.51 L226.60,832.09 L228.96,832.69 L231.33,833.30 L233.69,833.93 L236.05,834.57 L238.42,835.23 L240.78,835.90 L243.15,836.59 L245.51,837.29 L247.88,838.00 L250.24,838.73 L252.61,839.47 L254.97,840.22 L257.33,840.99 L259.70,841.77 L262.06,842.56 L264.43,843.37 L266.79,844.19 L269.16,845.02 L271.52,845.87 L273.88,846.72 L276.25,847.59 L278.61,848.48 L280.98,849.37 L283.34,850.28 L285.71,851.19 L288.07,852.12 L290.44,853.06 L292.80,854.02" stroke="#0000f8" stroke-width="3.2" fill="none"/>
<path d="M141.10,844.11 L143.36,844.15 L145.63,844.20 L147.89,844.26 L150.16,844.34 L152.42,844.44 L154.69,844.55 L156.95,844.67 L159.22,844.81 L161.48,844.97 L163.74,845.14 L166.01,845.32 L168.27,845.52 L170.54,845.74 L172.80,845.97 L175.07,846.21 L177.33,846.47 L179.59,846.75 L181.86,847.04 L184.12,847.34 L186.39,847.67 L188.65,848.00 L190.92,848.35 L193.18,848.72 L195.45,849.10 L197.71,849.50 L199.97,849.91 L202.24,850.34 L204.50,850.78 L206.77,851.24 L209.03,851.72 L211.30,852.21 L213.56,852.71 L215.83,853.23 L218.09,853.77 L220.35,854.32 L222.62,854.88 L224.88,855.46 L227.15,856.06 L229.41,856.67 L231.68,857.30 L233.94,857.94 L236.21,858.60 L238.47,859.28 L240.73,859.97 L243.00,860.67 L245.26,861.39 L247.53,862.13 L249.79,862.88 L252.06,863.65 L254.32,864.43 L256.58,865.23 L258.85,866.05 L261.11,866.88 L263.38,867.72 L265.64,868.59 L267.91,869.46 L270.17,870.36 L272.44,871.26 L274.70,872.19" stroke="#0000f8" stroke-width="3.2" fill="none"/>
<path d="M123.70,872.76H142.20L185.40,749.60" stroke="#1a1a1a" stroke-width="0.9" fill="none"/>
<rect x="44.80" y="862.96" width="78.30" height="19.60" fill="#fffbca" stroke="#2e2e2e" stroke-width="1.2"/>
<text class="bt" transform="translate(57.75,876.96) scale(0.755,1)" font-size="11.3" letter-spacing="0.685">K 80-50-200</text>
<path d="M123.70,903.32H142.20L218.70,789.70" stroke="#1a1a1a" stroke-width="0.9" fill="none"/>
<rect x="44.80" y="893.52" width="78.30" height="19.60" fill="#fffbca" stroke="#2e2e2e" stroke-width="1.2"/>
<text class="bt" transform="translate(54.45,907.52) scale(0.749,1)" font-size="11.3" letter-spacing="0.707">K 80-50-200A</text>
<path d="M123.70,933.83H142.20L237.70,836.70" stroke="#1a1a1a" stroke-width="0.9" fill="none"/>
<rect x="44.80" y="924.03" width="78.30" height="19.60" fill="#fffbca" stroke="#2e2e2e" stroke-width="1.2"/>
<text class="bt" transform="translate(57.75,938.03) scale(0.746,1)" font-size="11.3" letter-spacing="0.685">K 80-65-160</text>
<path d="M123.70,964.39H142.20L255.80,867.00" stroke="#1a1a1a" stroke-width="0.9" fill="none"/>
<rect x="44.80" y="954.59" width="78.30" height="19.60" fill="#fffbca" stroke="#2e2e2e" stroke-width="1.2"/>
<text class="bt" transform="translate(54.46,968.59) scale(0.736,1)" font-size="11.3" letter-spacing="0.707">K 80-65-160A</text>
<path d="M415.40,674.70V987.70M430.75,674.70V987.70M446.10,674.70V987.70M461.45,674.70V987.70M476.80,674.70V987.70M492.15,674.70V987.70M507.50,674.70V987.70M522.85,674.70V987.70M538.20,674.70V987.70M553.55,674.70V987.70M568.90,674.70V987.70M584.25,674.70V987.70M599.60,674.70V987.70M614.95,674.70V987.70M630.30,674.70V987.70M645.65,674.70V987.70M661.00,674.70V987.70M676.35,674.70V987.70M691.70,674.70V987.70M707.05,674.70V987.70M722.40,674.70V987.70M415.40,674.70H722.40M415.40,700.78H722.40M415.40,726.87H722.40M415.40,752.95H722.40M415.40,779.03H722.40M415.40,805.12H722.40M415.40,831.20H722.40M415.40,857.28H722.40M415.40,883.37H722.40M415.40,909.45H722.40M415.40,935.53H722.40M415.40,961.62H722.40M415.40,987.70H722.40" stroke="#a0f5a0" stroke-width="1.2" fill="none"/>
<path d="M410.60,674.50V987.70M406.60,987.70H410.60M406.60,935.50H410.60M406.60,883.30H410.60M406.60,831.10H410.60M406.60,778.90H410.60M406.60,726.70H410.60M406.60,674.50H410.60M415.20,992.60H722.40M415.20,992.60V996.60M445.92,992.60V996.60M476.64,992.60V996.60M507.36,992.60V996.60M538.08,992.60V996.60M568.80,992.60V996.60M599.52,992.60V996.60M630.24,992.60V996.60M660.96,992.60V996.60M691.68,992.60V996.60M722.40,992.60V996.60" stroke="#2a2a2a" stroke-width="1.3" fill="none"/>
<text transform="translate(395.55,990.83) scale(0.810,1)" font-size="9.0">0</text>
<text transform="translate(391.50,938.63) scale(0.810,1)" font-size="9.0">10</text>
<text transform="translate(391.50,886.43) scale(0.810,1)" font-size="9.0">20</text>
<text transform="translate(391.50,834.23) scale(0.810,1)" font-size="9.0">30</text>
<text transform="translate(391.50,782.03) scale(0.810,1)" font-size="9.0">40</text>
<text transform="translate(391.50,729.83) scale(0.810,1)" font-size="9.0">50</text>
<text transform="translate(391.50,677.63) scale(0.810,1)" font-size="9.0">60</text>
<text transform="translate(412.68,1010.40) scale(0.810,1)" font-size="9.0">0</text>
<text transform="translate(441.41,1010.40) scale(0.810,1)" font-size="9.0">50</text>
<text transform="translate(470.00,1010.40) scale(0.810,1)" font-size="9.0">100</text>
<text transform="translate(500.72,1010.40) scale(0.810,1)" font-size="9.0">150</text>
<text transform="translate(531.53,1010.40) scale(0.810,1)" font-size="9.0">200</text>
<text transform="translate(562.25,1010.40) scale(0.810,1)" font-size="9.0">250</text>
<text transform="translate(593.01,1010.40) scale(0.810,1)" font-size="9.0">300</text>
<text transform="translate(623.73,1010.40) scale(0.810,1)" font-size="9.0">350</text>
<text transform="translate(654.48,1010.40) scale(0.810,1)" font-size="9.0">400</text>
<text transform="translate(685.20,1010.40) scale(0.810,1)" font-size="9.0">450</text>
<text transform="translate(715.87,1010.40) scale(0.810,1)" font-size="9.0">500</text>
<text transform="translate(391.80,662.60) scale(0.834,1)" font-size="9.2">H (м)</text>
<text transform="translate(707.11,1021.80) scale(0.767,1)" font-size="9.4">Q (м³/ч)</text>
<path d="M561.40,700.37 L563.69,700.51 L565.97,700.67 L568.26,700.84 L570.55,701.02 L572.83,701.21 L575.12,701.42 L577.41,701.64 L579.69,701.88 L581.98,702.14 L584.26,702.42 L586.55,702.71 L588.84,703.02 L591.12,703.35 L593.41,703.70 L595.70,704.08 L597.98,704.47 L600.27,704.89 L602.56,705.33 L604.84,705.80 L607.13,706.29 L609.42,706.81 L611.70,707.35 L613.99,707.92 L616.27,708.52 L618.56,709.15 L620.85,709.80 L623.13,710.49 L625.42,711.21 L627.71,711.96 L629.99,712.74 L632.28,713.56 L634.57,714.41 L636.85,715.30 L639.14,716.22 L641.43,717.17 L643.71,718.17 L646.00,719.20 L648.28,720.27 L650.57,721.38 L652.86,722.53 L655.14,723.73 L657.43,724.96 L659.72,726.24 L662.00,727.56 L664.29,728.92 L666.58,730.33 L668.86,731.78 L671.15,733.28 L673.44,734.83 L675.72,736.42 L678.01,738.07 L680.29,739.76 L682.58,741.50 L684.87,743.30 L687.15,745.14 L689.44,747.04 L691.73,748.99 L694.01,750.99 L696.30,753.05" stroke="#0000f8" stroke-width="3.2" fill="none"/>
<path d="M553.80,733.35 L555.95,733.09 L558.10,732.87 L560.25,732.70 L562.40,732.58 L564.55,732.50 L566.69,732.47 L568.84,732.48 L570.99,732.54 L573.14,732.64 L575.29,732.79 L577.44,732.98 L579.59,733.21 L581.74,733.48 L583.89,733.80 L586.04,734.16 L588.19,734.56 L590.34,735.00 L592.48,735.49 L594.63,736.01 L596.78,736.57 L598.93,737.17 L601.08,737.81 L603.23,738.49 L605.38,739.21 L607.53,739.97 L609.68,740.76 L611.83,741.59 L613.98,742.45 L616.13,743.35 L618.27,744.29 L620.42,745.26 L622.57,746.27 L624.72,747.31 L626.87,748.39 L629.02,749.50 L631.17,750.64 L633.32,751.81 L635.47,753.02 L637.62,754.26 L639.77,755.53 L641.92,756.83 L644.06,758.17 L646.21,759.53 L648.36,760.92 L650.51,762.34 L652.66,763.79 L654.81,765.27 L656.96,766.78 L659.11,768.32 L661.26,769.88 L663.41,771.47 L665.56,773.09 L667.71,774.73 L669.85,776.40 L672.00,778.09 L674.15,779.81 L676.30,781.55 L678.45,783.32 L680.60,785.11" stroke="#0000f8" stroke-width="3.2" fill="none"/>
<path d="M560.40,789.94 L562.69,790.10 L564.97,790.28 L567.26,790.47 L569.55,790.67 L571.83,790.90 L574.12,791.14 L576.41,791.40 L578.69,791.68 L580.98,791.98 L583.26,792.30 L585.55,792.63 L587.84,792.99 L590.12,793.37 L592.41,793.77 L594.70,794.18 L596.98,794.63 L599.27,795.09 L601.56,795.57 L603.84,796.08 L606.13,796.61 L608.42,797.16 L610.70,797.74 L612.99,798.34 L615.27,798.96 L617.56,799.61 L619.85,800.29 L622.13,800.99 L624.42,801.71 L626.71,802.47 L628.99,803.25 L631.28,804.05 L633.57,804.88 L635.85,805.75 L638.14,806.63 L640.43,807.55 L642.71,808.50 L645.00,809.47 L647.28,810.48 L649.57,811.51 L651.86,812.58 L654.14,813.67 L656.43,814.80 L658.72,815.96 L661.00,817.15 L663.29,818.37 L665.58,819.62 L667.86,820.91 L670.15,822.23 L672.44,823.59 L674.72,824.97 L677.01,826.40 L679.29,827.85 L681.58,829.35 L683.87,830.87 L686.15,832.44 L688.44,834.04 L690.73,835.67 L693.01,837.35 L695.30,839.06" stroke="#0000f8" stroke-width="3.2" fill="none"/>
<path d="M553.80,818.34 L555.94,818.42 L558.08,818.51 L560.22,818.63 L562.36,818.77 L564.49,818.92 L566.63,819.11 L568.77,819.31 L570.91,819.53 L573.05,819.77 L575.19,820.04 L577.33,820.32 L579.47,820.62 L581.61,820.95 L583.75,821.30 L585.88,821.66 L588.02,822.05 L590.16,822.46 L592.30,822.89 L594.44,823.33 L596.58,823.80 L598.72,824.29 L600.86,824.79 L603.00,825.32 L605.14,825.87 L607.27,826.43 L609.41,827.02 L611.55,827.63 L613.69,828.25 L615.83,828.90 L617.97,829.56 L620.11,830.24 L622.25,830.94 L624.39,831.66 L626.53,832.40 L628.66,833.16 L630.80,833.94 L632.94,834.73 L635.08,835.55 L637.22,836.38 L639.36,837.23 L641.50,838.10 L643.64,838.99 L645.78,839.90 L647.92,840.82 L650.05,841.76 L652.19,842.72 L654.33,843.70 L656.47,844.70 L658.61,845.71 L660.75,846.75 L662.89,847.79 L665.03,848.86 L667.17,849.95 L669.31,851.05 L671.44,852.17 L673.58,853.30 L675.72,854.46 L677.86,855.63 L680.00,856.81" stroke="#0000f8" stroke-width="3.2" fill="none"/>
<path d="M563.30,857.57 L565.51,857.52 L567.73,857.50 L569.94,857.51 L572.15,857.55 L574.37,857.61 L576.58,857.69 L578.79,857.81 L581.01,857.95 L583.22,858.11 L585.44,858.30 L587.65,858.51 L589.86,858.75 L592.08,859.02 L594.29,859.30 L596.50,859.62 L598.72,859.95 L600.93,860.31 L603.14,860.69 L605.36,861.10 L607.57,861.52 L609.78,861.97 L612.00,862.45 L614.21,862.94 L616.43,863.46 L618.64,863.99 L620.85,864.55 L623.07,865.13 L625.28,865.73 L627.49,866.35 L629.71,866.99 L631.92,867.65 L634.13,868.33 L636.35,869.03 L638.56,869.75 L640.77,870.49 L642.99,871.25 L645.20,872.02 L647.42,872.82 L649.63,873.63 L651.84,874.46 L654.06,875.30 L656.27,876.17 L658.48,877.05 L660.70,877.95 L662.91,878.86 L665.12,879.79 L667.34,880.74 L669.55,881.70 L671.76,882.68 L673.98,883.67 L676.19,884.68 L678.41,885.70 L680.62,886.73 L682.83,887.78 L685.05,888.85 L687.26,889.93 L689.47,891.02 L691.69,892.12 L693.90,893.24" stroke="#0000f8" stroke-width="3.2" fill="none"/>
<path d="M553.80,883.20 L555.92,883.25 L558.04,883.31 L560.17,883.39 L562.29,883.47 L564.41,883.56 L566.53,883.66 L568.65,883.77 L570.78,883.89 L572.90,884.02 L575.02,884.16 L577.14,884.31 L579.26,884.47 L581.39,884.64 L583.51,884.83 L585.63,885.02 L587.75,885.23 L589.87,885.45 L592.00,885.68 L594.12,885.93 L596.24,886.19 L598.36,886.46 L600.48,886.74 L602.61,887.04 L604.73,887.35 L606.85,887.67 L608.97,888.01 L611.09,888.37 L613.22,888.73 L615.34,889.12 L617.46,889.51 L619.58,889.93 L621.71,890.35 L623.83,890.80 L625.95,891.26 L628.07,891.73 L630.19,892.22 L632.32,892.73 L634.44,893.26 L636.56,893.80 L638.68,894.36 L640.80,894.94 L642.93,895.53 L645.05,896.15 L647.17,896.78 L649.29,897.43 L651.41,898.09 L653.54,898.78 L655.66,899.49 L657.78,900.21 L659.90,900.96 L662.02,901.72 L664.15,902.50 L666.27,903.31 L668.39,904.13 L670.51,904.98 L672.63,905.85 L674.76,906.73 L676.88,907.64 L679.00,908.57" stroke="#0000f8" stroke-width="3.2" fill="none"/>
<path d="M506.20,831.10H521.00L573.60,701.10" stroke="#1a1a1a" stroke-width="0.9" fill="none"/>
<rect x="425.70" y="821.50" width="79.90" height="19.20" fill="#fffbca" stroke="#2e2e2e" stroke-width="1.2"/>
<text class="bt" transform="translate(433.54,835.30) scale(0.763,1)" font-size="11.3" letter-spacing="0.687">K 200-150-400</text>
<path d="M506.20,857.20H521.00L574.70,732.80" stroke="#1a1a1a" stroke-width="0.9" fill="none"/>
<rect x="425.70" y="847.60" width="79.90" height="19.20" fill="#fffbca" stroke="#2e2e2e" stroke-width="1.2"/>
<text class="bt" transform="translate(431.26,861.40) scale(0.732,1)" font-size="11.3" letter-spacing="0.705">K 200-150-400A</text>
<path d="M507.50,883.30H521.00L582.20,792.40" stroke="#1a1a1a" stroke-width="0.9" fill="none"/>
<rect x="425.70" y="873.70" width="81.20" height="19.20" fill="#fffbca" stroke="#2e2e2e" stroke-width="1.2"/>
<text class="bt" transform="translate(434.45,887.50) scale(0.755,1)" font-size="11.3" letter-spacing="0.688">K 200-150-315</text>
<path d="M506.20,909.40H521.00L643.00,838.10" stroke="#1a1a1a" stroke-width="0.9" fill="none"/>
<rect x="425.70" y="899.80" width="79.90" height="19.20" fill="#fffbca" stroke="#2e2e2e" stroke-width="1.2"/>
<text class="bt" transform="translate(431.26,913.60) scale(0.732,1)" font-size="11.3" letter-spacing="0.705">K 200-150-315A</text>
<path d="M506.20,935.50H521.00L639.20,870.30" stroke="#1a1a1a" stroke-width="0.9" fill="none"/>
<rect x="425.70" y="925.90" width="79.90" height="19.20" fill="#fffbca" stroke="#2e2e2e" stroke-width="1.2"/>
<text class="bt" transform="translate(434.04,939.70) scale(0.757,1)" font-size="11.3" letter-spacing="0.687">K 200-150-250</text>
<path d="M507.50,961.60H521.00L655.30,900.60" stroke="#1a1a1a" stroke-width="0.9" fill="none"/>
<rect x="425.70" y="952.00" width="81.20" height="19.20" fill="#fffbca" stroke="#2e2e2e" stroke-width="1.2"/>
<text class="bt" transform="translate(431.66,965.80) scale(0.739,1)" font-size="11.3" letter-spacing="0.705">K 200-150-250A</text>
</svg>
</body></html>
